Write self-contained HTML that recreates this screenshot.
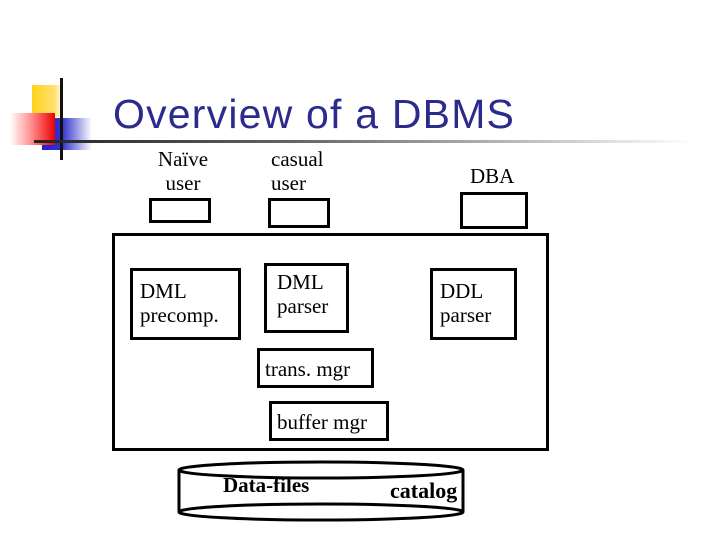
<!DOCTYPE html>
<html><head><style>
body{margin:0;width:720px;height:540px;background:#fff;position:relative;overflow:hidden;font-family:"Liberation Serif",serif;}
.a{position:absolute}
.b{position:absolute;border:3px solid #000;box-sizing:border-box;background:#fff}
.t{position:absolute;font-size:21px;line-height:24px;color:#000}
</style></head><body>
<div class="a" style="left:32px;top:85px;width:32px;height:32px;background:linear-gradient(90deg,#ffd21a,#ffe070 70%,#fff)"></div>
<div class="a" style="left:42px;top:118px;width:50px;height:32px;background:linear-gradient(90deg,#2222cc,#3333cc 40%,#fff)"></div>
<div class="a" style="left:10px;top:113px;width:45px;height:32px;background:linear-gradient(90deg,#fff,#f88 50%,#e00)"></div>
<div class="a" style="left:60px;top:78px;width:3px;height:82px;background:#111"></div>
<div class="a" style="left:34px;top:140px;width:660px;height:3px;background:linear-gradient(90deg,#222,#666 40%,#ccc 80%,#fff)"></div>
<div class="a" style="left:113px;top:90px;font-family:'Liberation Sans',sans-serif;font-size:41px;letter-spacing:1.2px;line-height:48px;color:#2b2b8c">Overview of a DBMS</div>

<div class="t" style="left:153px;top:147px;text-align:center;width:60px">Naïve<br>user</div>
<div class="t" style="left:271px;top:147px">casual<br>user</div>
<div class="t" style="left:470px;top:164px">DBA</div>
<div class="b" style="left:149px;top:198px;width:62px;height:25px"></div>
<div class="b" style="left:268px;top:198px;width:62px;height:30px"></div>
<div class="b" style="left:460px;top:192px;width:68px;height:37px"></div>

<div class="b" style="left:112px;top:233px;width:437px;height:218px"></div>
<div class="b" style="left:130px;top:268px;width:111px;height:72px"></div>
<div class="t" style="left:140px;top:279px">DML<br>precomp.</div>
<div class="b" style="left:264px;top:263px;width:85px;height:70px"></div>
<div class="t" style="left:277px;top:270px">DML<br>parser</div>
<div class="b" style="left:430px;top:268px;width:87px;height:72px"></div>
<div class="t" style="left:440px;top:279px">DDL<br>parser</div>
<div class="b" style="left:257px;top:348px;width:117px;height:40px"></div>
<div class="t" style="left:265px;top:357px">trans. mgr</div>
<div class="b" style="left:269px;top:401px;width:120px;height:40px"></div>
<div class="t" style="left:277px;top:410px">buffer mgr</div>

<svg class="a" style="left:0;top:0" width="720" height="540">
<rect x="179" y="470" width="284" height="42" fill="#fff"/>
<line x1="179" y1="470" x2="179" y2="512" stroke="#000" stroke-width="3"/>
<line x1="463" y1="470" x2="463" y2="512" stroke="#000" stroke-width="3"/>
<ellipse cx="321" cy="470" rx="142" ry="8" fill="none" stroke="#000" stroke-width="3"/>
<ellipse cx="321" cy="512" rx="142" ry="8" fill="none" stroke="#000" stroke-width="3"/>
<text x="223" y="492" font-family="Liberation Serif" font-weight="bold" font-size="21">Data-files</text>
<text x="390" y="498" font-family="Liberation Serif" font-weight="bold" font-size="22">catalog</text>
</svg>
</body></html>
